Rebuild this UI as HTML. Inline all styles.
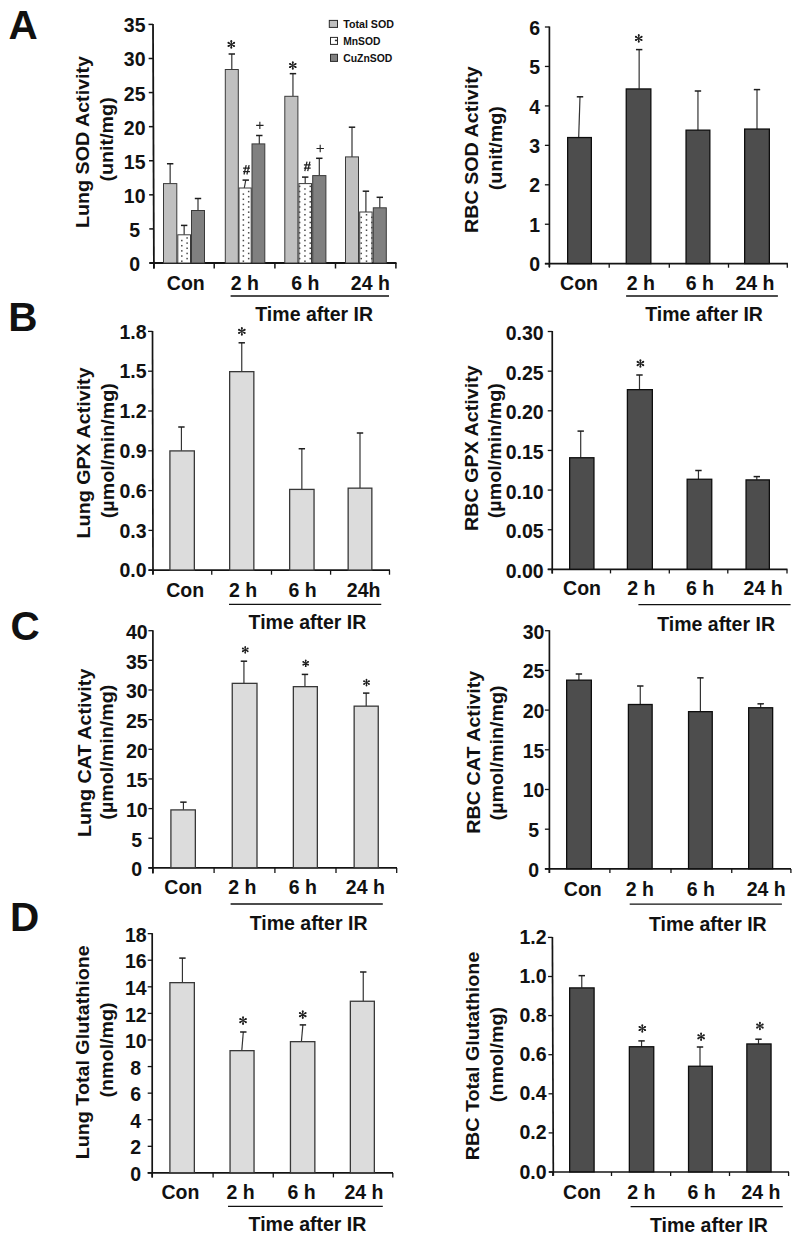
<!DOCTYPE html>
<html><head><meta charset="utf-8"><title>Antioxidant enzyme activities</title>
<style>
html,body{margin:0;padding:0;background:#fff;}
body{width:800px;height:1240px;overflow:hidden;}
svg{display:block;font-family:"Liberation Sans", sans-serif;}
</style></head><body>
<svg width="800" height="1240" viewBox="0 0 800 1240">
<rect x="0" y="0" width="800" height="1240" fill="#fff"/>
<line x1="153.92" y1="268.5" x2="153" y2="23.9" stroke="#141414" stroke-width="1.8" stroke-linecap="butt"/>
<line x1="149.4" y1="263" x2="153.9" y2="263" stroke="#141414" stroke-width="1.5" stroke-linecap="butt"/>
<text x="134.7" y="271" font-size="19.5" text-anchor="middle" font-weight="bold" fill="#111" >0</text>
<line x1="149.27" y1="228.91" x2="153.77" y2="228.91" stroke="#141414" stroke-width="1.5" stroke-linecap="butt"/>
<text x="134.7" y="236.91" font-size="19.5" text-anchor="middle" font-weight="bold" fill="#111" >5</text>
<line x1="149.14" y1="194.83" x2="153.64" y2="194.83" stroke="#141414" stroke-width="1.5" stroke-linecap="butt"/>
<text x="134.7" y="202.83" font-size="19.5" text-anchor="middle" font-weight="bold" fill="#111" >10</text>
<line x1="149.01" y1="160.74" x2="153.51" y2="160.74" stroke="#141414" stroke-width="1.5" stroke-linecap="butt"/>
<text x="134.7" y="168.74" font-size="19.5" text-anchor="middle" font-weight="bold" fill="#111" >15</text>
<line x1="148.89" y1="126.66" x2="153.39" y2="126.66" stroke="#141414" stroke-width="1.5" stroke-linecap="butt"/>
<text x="134.7" y="134.66" font-size="19.5" text-anchor="middle" font-weight="bold" fill="#111" >20</text>
<line x1="148.76" y1="92.57" x2="153.26" y2="92.57" stroke="#141414" stroke-width="1.5" stroke-linecap="butt"/>
<text x="134.7" y="100.57" font-size="19.5" text-anchor="middle" font-weight="bold" fill="#111" >25</text>
<line x1="148.63" y1="58.49" x2="153.13" y2="58.49" stroke="#141414" stroke-width="1.5" stroke-linecap="butt"/>
<text x="134.7" y="66.49" font-size="19.5" text-anchor="middle" font-weight="bold" fill="#111" >30</text>
<line x1="148.5" y1="24.4" x2="153" y2="24.4" stroke="#141414" stroke-width="1.5" stroke-linecap="butt"/>
<text x="134.7" y="32.4" font-size="19.5" text-anchor="middle" font-weight="bold" fill="#111" >35</text>
<line x1="149.4" y1="263" x2="396.5" y2="263" stroke="#141414" stroke-width="1.8" stroke-linecap="butt"/>
<line x1="153.9" y1="263" x2="153.9" y2="268.5" stroke="#141414" stroke-width="1.5" stroke-linecap="butt"/>
<line x1="214.2" y1="263" x2="214.2" y2="268.5" stroke="#141414" stroke-width="1.5" stroke-linecap="butt"/>
<line x1="274.9" y1="263" x2="274.9" y2="268.5" stroke="#141414" stroke-width="1.5" stroke-linecap="butt"/>
<line x1="335.5" y1="263" x2="335.5" y2="268.5" stroke="#141414" stroke-width="1.5" stroke-linecap="butt"/>
<line x1="395.9" y1="263" x2="395.9" y2="268.5" stroke="#141414" stroke-width="1.5" stroke-linecap="butt"/>
<line x1="170.15" y1="183.6" x2="170.15" y2="163.75" stroke="#333" stroke-width="1.2" stroke-linecap="butt"/>
<line x1="166.95" y1="163.75" x2="173.35" y2="163.75" stroke="#1e1e1e" stroke-width="1.5" stroke-linecap="butt"/>
<rect x="163.5" y="183.6" width="13.3" height="79.4" fill="#c0c0c0" stroke="#3a3a3a" stroke-width="1"/>
<line x1="184.15" y1="234.8" x2="184.15" y2="225.4" stroke="#333" stroke-width="1.2" stroke-linecap="butt"/>
<line x1="180.95" y1="225.4" x2="187.35" y2="225.4" stroke="#1e1e1e" stroke-width="1.5" stroke-linecap="butt"/>
<rect x="177.8" y="234.8" width="12.7" height="28.2" fill="#fff" stroke="#3a3a3a" stroke-width="1"/>
<line x1="198" y1="210.5" x2="198" y2="198.5" stroke="#333" stroke-width="1.2" stroke-linecap="butt"/>
<line x1="194.8" y1="198.5" x2="201.2" y2="198.5" stroke="#1e1e1e" stroke-width="1.5" stroke-linecap="butt"/>
<rect x="191.5" y="210.5" width="13" height="52.5" fill="#808080" stroke="#3a3a3a" stroke-width="1"/>
<line x1="231.8" y1="69.5" x2="231.8" y2="54" stroke="#333" stroke-width="1.2" stroke-linecap="butt"/>
<line x1="228.6" y1="54" x2="235" y2="54" stroke="#1e1e1e" stroke-width="1.5" stroke-linecap="butt"/>
<rect x="225.3" y="69.5" width="13" height="193.5" fill="#c0c0c0" stroke="#3a3a3a" stroke-width="1"/>
<line x1="244.25" y1="188" x2="245.75" y2="180.1" stroke="#333" stroke-width="1.2" stroke-linecap="butt"/>
<line x1="242.55" y1="180.1" x2="248.95" y2="180.1" stroke="#1e1e1e" stroke-width="1.5" stroke-linecap="butt"/>
<rect x="239" y="188" width="12.2" height="75" fill="#fff" stroke="#3a3a3a" stroke-width="1"/>
<line x1="259.3" y1="143.9" x2="259.3" y2="135.5" stroke="#333" stroke-width="1.2" stroke-linecap="butt"/>
<line x1="256.1" y1="135.5" x2="262.5" y2="135.5" stroke="#1e1e1e" stroke-width="1.5" stroke-linecap="butt"/>
<rect x="252" y="143.9" width="12.8" height="119.1" fill="#808080" stroke="#3a3a3a" stroke-width="1"/>
<line x1="292.95" y1="96.3" x2="292.95" y2="73.65" stroke="#333" stroke-width="1.2" stroke-linecap="butt"/>
<line x1="289.75" y1="73.65" x2="296.15" y2="73.65" stroke="#1e1e1e" stroke-width="1.5" stroke-linecap="butt"/>
<rect x="284.8" y="96.3" width="13.1" height="166.7" fill="#c0c0c0" stroke="#3a3a3a" stroke-width="1"/>
<line x1="305.2" y1="183.6" x2="305.2" y2="177.1" stroke="#333" stroke-width="1.2" stroke-linecap="butt"/>
<line x1="302" y1="177.1" x2="308.4" y2="177.1" stroke="#1e1e1e" stroke-width="1.5" stroke-linecap="butt"/>
<rect x="298.9" y="183.6" width="12.6" height="79.4" fill="#fff" stroke="#3a3a3a" stroke-width="1"/>
<line x1="319.3" y1="175.6" x2="319.3" y2="158.3" stroke="#333" stroke-width="1.2" stroke-linecap="butt"/>
<line x1="316.1" y1="158.3" x2="322.5" y2="158.3" stroke="#1e1e1e" stroke-width="1.5" stroke-linecap="butt"/>
<rect x="312.7" y="175.6" width="13.2" height="87.4" fill="#808080" stroke="#3a3a3a" stroke-width="1"/>
<line x1="352" y1="156.9" x2="352" y2="127.2" stroke="#333" stroke-width="1.2" stroke-linecap="butt"/>
<line x1="348.8" y1="127.2" x2="355.2" y2="127.2" stroke="#1e1e1e" stroke-width="1.5" stroke-linecap="butt"/>
<rect x="345.5" y="156.9" width="13" height="106.1" fill="#c0c0c0" stroke="#3a3a3a" stroke-width="1"/>
<line x1="365.9" y1="212" x2="365.9" y2="191.2" stroke="#333" stroke-width="1.2" stroke-linecap="butt"/>
<line x1="362.7" y1="191.2" x2="369.1" y2="191.2" stroke="#1e1e1e" stroke-width="1.5" stroke-linecap="butt"/>
<rect x="359.7" y="212" width="12.4" height="51" fill="#fff" stroke="#3a3a3a" stroke-width="1"/>
<line x1="379.8" y1="207.8" x2="379.8" y2="197.3" stroke="#333" stroke-width="1.2" stroke-linecap="butt"/>
<line x1="376.6" y1="197.3" x2="383" y2="197.3" stroke="#1e1e1e" stroke-width="1.5" stroke-linecap="butt"/>
<rect x="373.3" y="207.8" width="13" height="55.2" fill="#808080" stroke="#3a3a3a" stroke-width="1"/>
<rect x="181.05" y="260.45" width="1.5" height="1.5" fill="#4a4a4a"/>
<rect x="181.05" y="255.29" width="1.5" height="1.5" fill="#4a4a4a"/>
<rect x="181.05" y="250.13" width="1.5" height="1.5" fill="#4a4a4a"/>
<rect x="181.05" y="244.97" width="1.5" height="1.5" fill="#4a4a4a"/>
<rect x="181.05" y="239.81" width="1.5" height="1.5" fill="#4a4a4a"/>
<rect x="186.35" y="257.85" width="1.5" height="1.5" fill="#4a4a4a"/>
<rect x="186.35" y="252.69" width="1.5" height="1.5" fill="#4a4a4a"/>
<rect x="186.35" y="247.53" width="1.5" height="1.5" fill="#4a4a4a"/>
<rect x="186.35" y="242.37" width="1.5" height="1.5" fill="#4a4a4a"/>
<rect x="186.35" y="237.21" width="1.5" height="1.5" fill="#4a4a4a"/>
<rect x="242.62" y="260.45" width="1.5" height="1.5" fill="#4a4a4a"/>
<rect x="242.62" y="255.29" width="1.5" height="1.5" fill="#4a4a4a"/>
<rect x="242.62" y="250.13" width="1.5" height="1.5" fill="#4a4a4a"/>
<rect x="242.62" y="244.97" width="1.5" height="1.5" fill="#4a4a4a"/>
<rect x="242.62" y="239.81" width="1.5" height="1.5" fill="#4a4a4a"/>
<rect x="242.62" y="234.65" width="1.5" height="1.5" fill="#4a4a4a"/>
<rect x="242.62" y="229.49" width="1.5" height="1.5" fill="#4a4a4a"/>
<rect x="242.62" y="224.33" width="1.5" height="1.5" fill="#4a4a4a"/>
<rect x="242.62" y="219.17" width="1.5" height="1.5" fill="#4a4a4a"/>
<rect x="242.62" y="214.01" width="1.5" height="1.5" fill="#4a4a4a"/>
<rect x="242.62" y="208.85" width="1.5" height="1.5" fill="#4a4a4a"/>
<rect x="242.62" y="203.69" width="1.5" height="1.5" fill="#4a4a4a"/>
<rect x="242.62" y="198.53" width="1.5" height="1.5" fill="#4a4a4a"/>
<rect x="242.62" y="193.37" width="1.5" height="1.5" fill="#4a4a4a"/>
<rect x="247.92" y="257.85" width="1.5" height="1.5" fill="#4a4a4a"/>
<rect x="247.92" y="252.69" width="1.5" height="1.5" fill="#4a4a4a"/>
<rect x="247.92" y="247.53" width="1.5" height="1.5" fill="#4a4a4a"/>
<rect x="247.92" y="242.37" width="1.5" height="1.5" fill="#4a4a4a"/>
<rect x="247.92" y="237.21" width="1.5" height="1.5" fill="#4a4a4a"/>
<rect x="247.92" y="232.05" width="1.5" height="1.5" fill="#4a4a4a"/>
<rect x="247.92" y="226.89" width="1.5" height="1.5" fill="#4a4a4a"/>
<rect x="247.92" y="221.73" width="1.5" height="1.5" fill="#4a4a4a"/>
<rect x="247.92" y="216.57" width="1.5" height="1.5" fill="#4a4a4a"/>
<rect x="247.92" y="211.41" width="1.5" height="1.5" fill="#4a4a4a"/>
<rect x="247.92" y="206.25" width="1.5" height="1.5" fill="#4a4a4a"/>
<rect x="247.92" y="201.09" width="1.5" height="1.5" fill="#4a4a4a"/>
<rect x="247.92" y="195.93" width="1.5" height="1.5" fill="#4a4a4a"/>
<rect x="247.92" y="190.77" width="1.5" height="1.5" fill="#4a4a4a"/>
<rect x="304.19" y="260.45" width="1.5" height="1.5" fill="#4a4a4a"/>
<rect x="304.19" y="255.29" width="1.5" height="1.5" fill="#4a4a4a"/>
<rect x="304.19" y="250.13" width="1.5" height="1.5" fill="#4a4a4a"/>
<rect x="304.19" y="244.97" width="1.5" height="1.5" fill="#4a4a4a"/>
<rect x="304.19" y="239.81" width="1.5" height="1.5" fill="#4a4a4a"/>
<rect x="304.19" y="234.65" width="1.5" height="1.5" fill="#4a4a4a"/>
<rect x="304.19" y="229.49" width="1.5" height="1.5" fill="#4a4a4a"/>
<rect x="304.19" y="224.33" width="1.5" height="1.5" fill="#4a4a4a"/>
<rect x="304.19" y="219.17" width="1.5" height="1.5" fill="#4a4a4a"/>
<rect x="304.19" y="214.01" width="1.5" height="1.5" fill="#4a4a4a"/>
<rect x="304.19" y="208.85" width="1.5" height="1.5" fill="#4a4a4a"/>
<rect x="304.19" y="203.69" width="1.5" height="1.5" fill="#4a4a4a"/>
<rect x="304.19" y="198.53" width="1.5" height="1.5" fill="#4a4a4a"/>
<rect x="304.19" y="193.37" width="1.5" height="1.5" fill="#4a4a4a"/>
<rect x="304.19" y="188.21" width="1.5" height="1.5" fill="#4a4a4a"/>
<rect x="298.89" y="257.85" width="1.5" height="1.5" fill="#4a4a4a"/>
<rect x="298.89" y="252.69" width="1.5" height="1.5" fill="#4a4a4a"/>
<rect x="298.89" y="247.53" width="1.5" height="1.5" fill="#4a4a4a"/>
<rect x="298.89" y="242.37" width="1.5" height="1.5" fill="#4a4a4a"/>
<rect x="298.89" y="237.21" width="1.5" height="1.5" fill="#4a4a4a"/>
<rect x="298.89" y="232.05" width="1.5" height="1.5" fill="#4a4a4a"/>
<rect x="298.89" y="226.89" width="1.5" height="1.5" fill="#4a4a4a"/>
<rect x="298.89" y="221.73" width="1.5" height="1.5" fill="#4a4a4a"/>
<rect x="298.89" y="216.57" width="1.5" height="1.5" fill="#4a4a4a"/>
<rect x="298.89" y="211.41" width="1.5" height="1.5" fill="#4a4a4a"/>
<rect x="298.89" y="206.25" width="1.5" height="1.5" fill="#4a4a4a"/>
<rect x="298.89" y="201.09" width="1.5" height="1.5" fill="#4a4a4a"/>
<rect x="298.89" y="195.93" width="1.5" height="1.5" fill="#4a4a4a"/>
<rect x="298.89" y="190.77" width="1.5" height="1.5" fill="#4a4a4a"/>
<rect x="298.89" y="185.61" width="1.5" height="1.5" fill="#4a4a4a"/>
<rect x="309.49" y="257.85" width="1.5" height="1.5" fill="#4a4a4a"/>
<rect x="309.49" y="252.69" width="1.5" height="1.5" fill="#4a4a4a"/>
<rect x="309.49" y="247.53" width="1.5" height="1.5" fill="#4a4a4a"/>
<rect x="309.49" y="242.37" width="1.5" height="1.5" fill="#4a4a4a"/>
<rect x="309.49" y="237.21" width="1.5" height="1.5" fill="#4a4a4a"/>
<rect x="309.49" y="232.05" width="1.5" height="1.5" fill="#4a4a4a"/>
<rect x="309.49" y="226.89" width="1.5" height="1.5" fill="#4a4a4a"/>
<rect x="309.49" y="221.73" width="1.5" height="1.5" fill="#4a4a4a"/>
<rect x="309.49" y="216.57" width="1.5" height="1.5" fill="#4a4a4a"/>
<rect x="309.49" y="211.41" width="1.5" height="1.5" fill="#4a4a4a"/>
<rect x="309.49" y="206.25" width="1.5" height="1.5" fill="#4a4a4a"/>
<rect x="309.49" y="201.09" width="1.5" height="1.5" fill="#4a4a4a"/>
<rect x="309.49" y="195.93" width="1.5" height="1.5" fill="#4a4a4a"/>
<rect x="309.49" y="190.77" width="1.5" height="1.5" fill="#4a4a4a"/>
<rect x="309.49" y="185.61" width="1.5" height="1.5" fill="#4a4a4a"/>
<rect x="365.76" y="260.45" width="1.5" height="1.5" fill="#4a4a4a"/>
<rect x="365.76" y="255.29" width="1.5" height="1.5" fill="#4a4a4a"/>
<rect x="365.76" y="250.13" width="1.5" height="1.5" fill="#4a4a4a"/>
<rect x="365.76" y="244.97" width="1.5" height="1.5" fill="#4a4a4a"/>
<rect x="365.76" y="239.81" width="1.5" height="1.5" fill="#4a4a4a"/>
<rect x="365.76" y="234.65" width="1.5" height="1.5" fill="#4a4a4a"/>
<rect x="365.76" y="229.49" width="1.5" height="1.5" fill="#4a4a4a"/>
<rect x="365.76" y="224.33" width="1.5" height="1.5" fill="#4a4a4a"/>
<rect x="365.76" y="219.17" width="1.5" height="1.5" fill="#4a4a4a"/>
<rect x="365.76" y="214.01" width="1.5" height="1.5" fill="#4a4a4a"/>
<rect x="360.46" y="257.85" width="1.5" height="1.5" fill="#4a4a4a"/>
<rect x="360.46" y="252.69" width="1.5" height="1.5" fill="#4a4a4a"/>
<rect x="360.46" y="247.53" width="1.5" height="1.5" fill="#4a4a4a"/>
<rect x="360.46" y="242.37" width="1.5" height="1.5" fill="#4a4a4a"/>
<rect x="360.46" y="237.21" width="1.5" height="1.5" fill="#4a4a4a"/>
<rect x="360.46" y="232.05" width="1.5" height="1.5" fill="#4a4a4a"/>
<rect x="360.46" y="226.89" width="1.5" height="1.5" fill="#4a4a4a"/>
<rect x="360.46" y="221.73" width="1.5" height="1.5" fill="#4a4a4a"/>
<rect x="360.46" y="216.57" width="1.5" height="1.5" fill="#4a4a4a"/>
<rect x="371.06" y="257.85" width="1.5" height="1.5" fill="#4a4a4a"/>
<rect x="371.06" y="252.69" width="1.5" height="1.5" fill="#4a4a4a"/>
<rect x="371.06" y="247.53" width="1.5" height="1.5" fill="#4a4a4a"/>
<rect x="371.06" y="242.37" width="1.5" height="1.5" fill="#4a4a4a"/>
<rect x="371.06" y="237.21" width="1.5" height="1.5" fill="#4a4a4a"/>
<rect x="371.06" y="232.05" width="1.5" height="1.5" fill="#4a4a4a"/>
<rect x="371.06" y="226.89" width="1.5" height="1.5" fill="#4a4a4a"/>
<rect x="371.06" y="221.73" width="1.5" height="1.5" fill="#4a4a4a"/>
<rect x="371.06" y="216.57" width="1.5" height="1.5" fill="#4a4a4a"/>
<circle cx="231.3" cy="41.05" r="0.95" fill="#1e1e1e"/>
<circle cx="228.4" cy="42.73" r="0.95" fill="#1e1e1e"/>
<circle cx="228.4" cy="46.07" r="0.95" fill="#1e1e1e"/>
<circle cx="231.3" cy="47.75" r="0.95" fill="#1e1e1e"/>
<circle cx="234.2" cy="46.08" r="0.95" fill="#1e1e1e"/>
<circle cx="234.2" cy="42.73" r="0.95" fill="#1e1e1e"/>
<path d="M231.6 44.4L232.25 41.05L230.35 41.05L231 44.4ZM231.45 44.14L228.87 41.9L227.92 43.55L231.15 44.66ZM231.15 44.14L227.92 45.25L228.87 46.9L231.45 44.66ZM231 44.4L230.35 47.75L232.25 47.75L231.6 44.4ZM231.15 44.66L233.73 46.9L234.68 45.25L231.45 44.14ZM231.45 44.66L234.68 43.55L233.73 41.9L231.15 44.14Z" fill="#1e1e1e"/>
<circle cx="292.8" cy="62.15" r="0.95" fill="#1e1e1e"/>
<circle cx="289.9" cy="63.83" r="0.95" fill="#1e1e1e"/>
<circle cx="289.9" cy="67.17" r="0.95" fill="#1e1e1e"/>
<circle cx="292.8" cy="68.85" r="0.95" fill="#1e1e1e"/>
<circle cx="295.7" cy="67.17" r="0.95" fill="#1e1e1e"/>
<circle cx="295.7" cy="63.83" r="0.95" fill="#1e1e1e"/>
<path d="M293.1 65.5L293.75 62.15L291.85 62.15L292.5 65.5ZM292.95 65.24L290.37 63L289.42 64.65L292.65 65.76ZM292.65 65.24L289.42 66.35L290.37 68L292.95 65.76ZM292.5 65.5L291.85 68.85L293.75 68.85L293.1 65.5ZM292.65 65.76L295.23 68L296.18 66.35L292.95 65.24ZM292.95 65.76L296.18 64.65L295.23 63L292.65 65.24Z" fill="#1e1e1e"/>
<path d="M244 174.5L246.2 165.1M246.9 174.5L249.1 165.1M243.1 168.2L249.9 168.2M243.1 171.5L249.9 171.5" stroke="#222" stroke-width="1.25" fill="none"/>
<path d="M304.8 171.1L307 161.7M307.7 171.1L309.9 161.7M303.9 164.8L310.7 164.8M303.9 168.1L310.7 168.1" stroke="#222" stroke-width="1.25" fill="none"/>
<path d="M256.15 125.35L263.55 125.35M259.85 121.65L259.85 129.05" stroke="#222" stroke-width="1.1" fill="none"/>
<path d="M316.5 148.5L323.9 148.5M320.2 144.8L320.2 152.2" stroke="#222" stroke-width="1.1" fill="none"/>
<text x="185.8" y="290" font-size="19.5" text-anchor="middle" font-weight="bold" fill="#111" >Con</text>
<text x="244.85" y="290" font-size="19.5" text-anchor="middle" font-weight="bold" fill="#111" >2 h</text>
<text x="305.4" y="290" font-size="19.5" text-anchor="middle" font-weight="bold" fill="#111" >6 h</text>
<text x="370.3" y="290" font-size="19.5" text-anchor="middle" font-weight="bold" fill="#111" >24 h</text>
<line x1="230.6" y1="296" x2="389" y2="296" stroke="#111" stroke-width="1.3" stroke-linecap="butt"/>
<text x="314.2" y="321" font-size="19.5" text-anchor="middle" font-weight="bold" fill="#111" >Time after IR</text>
<text transform="translate(88.5 142) rotate(-90) scale(1 0.94)" x="0" y="0" font-size="19.7" text-anchor="middle" font-weight="bold" fill="#111">Lung SOD Activity</text>
<text transform="translate(112.5 139.4) rotate(-90) scale(1 0.94)" x="0" y="0" font-size="19.7" text-anchor="middle" font-weight="bold" fill="#111">(unit/mg)</text>
<line x1="549.4" y1="267" x2="549.4" y2="26.5" stroke="#141414" stroke-width="1.7" stroke-linecap="butt"/>
<line x1="544.9" y1="263.7" x2="549.4" y2="263.7" stroke="#141414" stroke-width="1.3" stroke-linecap="butt"/>
<text x="534.6" y="271.3" font-size="19.5" text-anchor="middle" font-weight="bold" fill="#111" >0</text>
<line x1="544.9" y1="224.25" x2="549.4" y2="224.25" stroke="#141414" stroke-width="1.3" stroke-linecap="butt"/>
<text x="534.6" y="231.85" font-size="19.5" text-anchor="middle" font-weight="bold" fill="#111" >1</text>
<line x1="544.9" y1="184.8" x2="549.4" y2="184.8" stroke="#141414" stroke-width="1.3" stroke-linecap="butt"/>
<text x="534.6" y="192.4" font-size="19.5" text-anchor="middle" font-weight="bold" fill="#111" >2</text>
<line x1="544.9" y1="145.35" x2="549.4" y2="145.35" stroke="#141414" stroke-width="1.3" stroke-linecap="butt"/>
<text x="534.6" y="152.95" font-size="19.5" text-anchor="middle" font-weight="bold" fill="#111" >3</text>
<line x1="544.9" y1="105.9" x2="549.4" y2="105.9" stroke="#141414" stroke-width="1.3" stroke-linecap="butt"/>
<text x="534.6" y="113.5" font-size="19.5" text-anchor="middle" font-weight="bold" fill="#111" >4</text>
<line x1="544.9" y1="66.45" x2="549.4" y2="66.45" stroke="#141414" stroke-width="1.3" stroke-linecap="butt"/>
<text x="534.6" y="74.05" font-size="19.5" text-anchor="middle" font-weight="bold" fill="#111" >5</text>
<line x1="544.9" y1="27" x2="549.4" y2="27" stroke="#141414" stroke-width="1.3" stroke-linecap="butt"/>
<text x="534.6" y="34.6" font-size="19.5" text-anchor="middle" font-weight="bold" fill="#111" >6</text>
<line x1="544.9" y1="263.7" x2="787.9" y2="263.7" stroke="#141414" stroke-width="1.7" stroke-linecap="butt"/>
<line x1="549.4" y1="263.7" x2="549.4" y2="267.7" stroke="#141414" stroke-width="1.3" stroke-linecap="butt"/>
<line x1="609.2" y1="263.7" x2="609.2" y2="267.7" stroke="#141414" stroke-width="1.3" stroke-linecap="butt"/>
<line x1="669.3" y1="263.7" x2="669.3" y2="267.7" stroke="#141414" stroke-width="1.3" stroke-linecap="butt"/>
<line x1="728.5" y1="263.7" x2="728.5" y2="267.7" stroke="#141414" stroke-width="1.3" stroke-linecap="butt"/>
<line x1="787.3" y1="263.7" x2="787.3" y2="267.7" stroke="#141414" stroke-width="1.3" stroke-linecap="butt"/>
<line x1="578.7" y1="137.4" x2="580" y2="96.8" stroke="#333" stroke-width="1.2" stroke-linecap="butt"/>
<line x1="576.8" y1="96.8" x2="583.2" y2="96.8" stroke="#1e1e1e" stroke-width="1.5" stroke-linecap="butt"/>
<rect x="567.65" y="137.55" width="23.7" height="126" fill="#4d4d4d" stroke="#0e0e0e" stroke-width="1.3"/>
<line x1="639.15" y1="88.8" x2="639.15" y2="49.6" stroke="#333" stroke-width="1.2" stroke-linecap="butt"/>
<line x1="635.95" y1="49.6" x2="642.35" y2="49.6" stroke="#1e1e1e" stroke-width="1.5" stroke-linecap="butt"/>
<rect x="626.25" y="88.95" width="24.6" height="174.6" fill="#4d4d4d" stroke="#0e0e0e" stroke-width="1.3"/>
<line x1="697.95" y1="130" x2="697.95" y2="91" stroke="#333" stroke-width="1.2" stroke-linecap="butt"/>
<line x1="694.75" y1="91" x2="701.15" y2="91" stroke="#1e1e1e" stroke-width="1.5" stroke-linecap="butt"/>
<rect x="686.05" y="130.15" width="23.8" height="133.4" fill="#4d4d4d" stroke="#0e0e0e" stroke-width="1.3"/>
<line x1="757" y1="128.9" x2="757" y2="89.6" stroke="#333" stroke-width="1.2" stroke-linecap="butt"/>
<line x1="753.8" y1="89.6" x2="760.2" y2="89.6" stroke="#1e1e1e" stroke-width="1.5" stroke-linecap="butt"/>
<rect x="744.65" y="129.05" width="24.7" height="134.5" fill="#4d4d4d" stroke="#0e0e0e" stroke-width="1.3"/>
<circle cx="638.75" cy="35.05" r="0.95" fill="#1e1e1e"/>
<circle cx="635.85" cy="36.73" r="0.95" fill="#1e1e1e"/>
<circle cx="635.85" cy="40.07" r="0.95" fill="#1e1e1e"/>
<circle cx="638.75" cy="41.75" r="0.95" fill="#1e1e1e"/>
<circle cx="641.65" cy="40.08" r="0.95" fill="#1e1e1e"/>
<circle cx="641.65" cy="36.73" r="0.95" fill="#1e1e1e"/>
<path d="M639.05 38.4L639.7 35.05L637.8 35.05L638.45 38.4ZM638.9 38.14L636.32 35.9L635.37 37.55L638.6 38.66ZM638.6 38.14L635.37 39.25L636.32 40.9L638.9 38.66ZM638.45 38.4L637.8 41.75L639.7 41.75L639.05 38.4ZM638.6 38.66L641.18 40.9L642.13 39.25L638.9 38.14ZM638.9 38.66L642.13 37.55L641.18 35.9L638.6 38.14Z" fill="#1e1e1e"/>
<text x="579" y="290.1" font-size="19.5" text-anchor="middle" font-weight="bold" fill="#111" >Con</text>
<text x="640.75" y="290.1" font-size="19.5" text-anchor="middle" font-weight="bold" fill="#111" >2 h</text>
<text x="699.9" y="290.1" font-size="19.5" text-anchor="middle" font-weight="bold" fill="#111" >6 h</text>
<text x="755" y="290.1" font-size="19.5" text-anchor="middle" font-weight="bold" fill="#111" >24 h</text>
<line x1="626.1" y1="296" x2="777.9" y2="296" stroke="#111" stroke-width="1.3" stroke-linecap="butt"/>
<text x="704.05" y="321" font-size="19.5" text-anchor="middle" font-weight="bold" fill="#111" >Time after IR</text>
<text transform="translate(478.2 149.65) rotate(-90) scale(1 0.94)" x="0" y="0" font-size="19.7" text-anchor="middle" font-weight="bold" fill="#111">RBC SOD Activity</text>
<text transform="translate(501.5 148.2) rotate(-90) scale(1 0.94)" x="0" y="0" font-size="19.7" text-anchor="middle" font-weight="bold" fill="#111">(unit/mg)</text>
<line x1="153.01" y1="574.5" x2="152.5" y2="330.9" stroke="#141414" stroke-width="1.7" stroke-linecap="butt"/>
<line x1="148.5" y1="570.2" x2="153" y2="570.2" stroke="#141414" stroke-width="1.3" stroke-linecap="butt"/>
<text x="146.6" y="577.3" font-size="19.5" text-anchor="end" font-weight="bold" fill="#111" >0.0</text>
<line x1="148.42" y1="530.4" x2="152.92" y2="530.4" stroke="#141414" stroke-width="1.3" stroke-linecap="butt"/>
<text x="146.6" y="537.5" font-size="19.5" text-anchor="end" font-weight="bold" fill="#111" >0.3</text>
<line x1="148.33" y1="490.6" x2="152.83" y2="490.6" stroke="#141414" stroke-width="1.3" stroke-linecap="butt"/>
<text x="146.6" y="497.7" font-size="19.5" text-anchor="end" font-weight="bold" fill="#111" >0.6</text>
<line x1="148.25" y1="450.8" x2="152.75" y2="450.8" stroke="#141414" stroke-width="1.3" stroke-linecap="butt"/>
<text x="146.6" y="457.9" font-size="19.5" text-anchor="end" font-weight="bold" fill="#111" >0.9</text>
<line x1="148.17" y1="411" x2="152.67" y2="411" stroke="#141414" stroke-width="1.3" stroke-linecap="butt"/>
<text x="146.6" y="418.1" font-size="19.5" text-anchor="end" font-weight="bold" fill="#111" >1.2</text>
<line x1="148.08" y1="371.2" x2="152.58" y2="371.2" stroke="#141414" stroke-width="1.3" stroke-linecap="butt"/>
<text x="146.6" y="378.3" font-size="19.5" text-anchor="end" font-weight="bold" fill="#111" >1.5</text>
<line x1="148" y1="331.4" x2="152.5" y2="331.4" stroke="#141414" stroke-width="1.3" stroke-linecap="butt"/>
<text x="146.6" y="338.5" font-size="19.5" text-anchor="end" font-weight="bold" fill="#111" >1.8</text>
<line x1="148.5" y1="570.2" x2="390" y2="570.2" stroke="#141414" stroke-width="1.7" stroke-linecap="butt"/>
<line x1="152.9" y1="570.2" x2="152.9" y2="574.7" stroke="#141414" stroke-width="1.3" stroke-linecap="butt"/>
<line x1="211.75" y1="570.2" x2="211.75" y2="574.7" stroke="#141414" stroke-width="1.3" stroke-linecap="butt"/>
<line x1="271.5" y1="570.2" x2="271.5" y2="574.7" stroke="#141414" stroke-width="1.3" stroke-linecap="butt"/>
<line x1="330.6" y1="570.2" x2="330.6" y2="574.7" stroke="#141414" stroke-width="1.3" stroke-linecap="butt"/>
<line x1="389.5" y1="570.2" x2="389.5" y2="574.7" stroke="#141414" stroke-width="1.3" stroke-linecap="butt"/>
<line x1="181.43" y1="450.75" x2="181.43" y2="427" stroke="#333" stroke-width="1.2" stroke-linecap="butt"/>
<line x1="178.23" y1="427" x2="184.62" y2="427" stroke="#1e1e1e" stroke-width="1.5" stroke-linecap="butt"/>
<rect x="169.9" y="450.9" width="24.45" height="119.15" fill="#dcdcdc" stroke="#383838" stroke-width="1.3"/>
<line x1="241.75" y1="371.5" x2="241.75" y2="342.8" stroke="#333" stroke-width="1.2" stroke-linecap="butt"/>
<line x1="238.55" y1="342.8" x2="244.95" y2="342.8" stroke="#1e1e1e" stroke-width="1.5" stroke-linecap="butt"/>
<rect x="229.65" y="371.65" width="24.2" height="198.4" fill="#dcdcdc" stroke="#383838" stroke-width="1.3"/>
<line x1="301.85" y1="489.25" x2="301.85" y2="448.75" stroke="#333" stroke-width="1.2" stroke-linecap="butt"/>
<line x1="298.65" y1="448.75" x2="305.05" y2="448.75" stroke="#1e1e1e" stroke-width="1.5" stroke-linecap="butt"/>
<rect x="289.65" y="489.4" width="24.4" height="80.65" fill="#dcdcdc" stroke="#383838" stroke-width="1.3"/>
<line x1="360" y1="488" x2="360" y2="433" stroke="#333" stroke-width="1.2" stroke-linecap="butt"/>
<line x1="356.8" y1="433" x2="363.2" y2="433" stroke="#1e1e1e" stroke-width="1.5" stroke-linecap="butt"/>
<rect x="348.15" y="488.15" width="23.7" height="81.9" fill="#dcdcdc" stroke="#383838" stroke-width="1.3"/>
<circle cx="241.85" cy="328" r="0.95" fill="#1e1e1e"/>
<circle cx="238.95" cy="329.68" r="0.95" fill="#1e1e1e"/>
<circle cx="238.95" cy="333.03" r="0.95" fill="#1e1e1e"/>
<circle cx="241.85" cy="334.7" r="0.95" fill="#1e1e1e"/>
<circle cx="244.75" cy="333.03" r="0.95" fill="#1e1e1e"/>
<circle cx="244.75" cy="329.68" r="0.95" fill="#1e1e1e"/>
<path d="M242.15 331.35L242.8 328L240.9 328L241.55 331.35ZM242 331.09L239.42 328.85L238.47 330.5L241.7 331.61ZM241.7 331.09L238.47 332.2L239.42 333.85L242 331.61ZM241.55 331.35L240.9 334.7L242.8 334.7L242.15 331.35ZM241.7 331.61L244.28 333.85L245.23 332.2L242 331.09ZM242 331.61L245.23 330.5L244.28 328.85L241.7 331.09Z" fill="#1e1e1e"/>
<text x="185.15" y="597.4" font-size="19.5" text-anchor="middle" font-weight="bold" fill="#111" >Con</text>
<text x="243" y="597.4" font-size="19.5" text-anchor="middle" font-weight="bold" fill="#111" >2 h</text>
<text x="302.65" y="597.4" font-size="19.5" text-anchor="middle" font-weight="bold" fill="#111" >6 h</text>
<text x="363.6" y="597.4" font-size="19.5" text-anchor="middle" font-weight="bold" fill="#111" >24h</text>
<line x1="229" y1="604.3" x2="381.25" y2="604.3" stroke="#111" stroke-width="1.3" stroke-linecap="butt"/>
<text x="307.5" y="629" font-size="19.5" text-anchor="middle" font-weight="bold" fill="#111" >Time after IR</text>
<text transform="translate(89.7 452.9) rotate(-90) scale(1 0.94)" x="0" y="0" font-size="19.7" text-anchor="middle" font-weight="bold" fill="#111">Lung GPX Activity</text>
<text transform="translate(113.6 450.75) rotate(-90) scale(1 0.94)" x="0" y="0" font-size="19.7" text-anchor="middle" font-weight="bold" fill="#111">(µmol/min/mg)</text>
<line x1="552.25" y1="573.5" x2="552.25" y2="331" stroke="#141414" stroke-width="1.7" stroke-linecap="butt"/>
<line x1="547.75" y1="569.4" x2="552.25" y2="569.4" stroke="#141414" stroke-width="1.3" stroke-linecap="butt"/>
<text x="543.6" y="577.9" font-size="19.5" text-anchor="end" font-weight="bold" fill="#111" >0.00</text>
<line x1="547.75" y1="529.75" x2="552.25" y2="529.75" stroke="#141414" stroke-width="1.3" stroke-linecap="butt"/>
<text x="543.6" y="538.25" font-size="19.5" text-anchor="end" font-weight="bold" fill="#111" >0.05</text>
<line x1="547.75" y1="490.1" x2="552.25" y2="490.1" stroke="#141414" stroke-width="1.3" stroke-linecap="butt"/>
<text x="543.6" y="498.6" font-size="19.5" text-anchor="end" font-weight="bold" fill="#111" >0.10</text>
<line x1="547.75" y1="450.45" x2="552.25" y2="450.45" stroke="#141414" stroke-width="1.3" stroke-linecap="butt"/>
<text x="543.6" y="458.95" font-size="19.5" text-anchor="end" font-weight="bold" fill="#111" >0.15</text>
<line x1="547.75" y1="410.8" x2="552.25" y2="410.8" stroke="#141414" stroke-width="1.3" stroke-linecap="butt"/>
<text x="543.6" y="419.3" font-size="19.5" text-anchor="end" font-weight="bold" fill="#111" >0.20</text>
<line x1="547.75" y1="371.15" x2="552.25" y2="371.15" stroke="#141414" stroke-width="1.3" stroke-linecap="butt"/>
<text x="543.6" y="379.65" font-size="19.5" text-anchor="end" font-weight="bold" fill="#111" >0.25</text>
<line x1="547.75" y1="331.5" x2="552.25" y2="331.5" stroke="#141414" stroke-width="1.3" stroke-linecap="butt"/>
<text x="543.6" y="340" font-size="19.5" text-anchor="end" font-weight="bold" fill="#111" >0.30</text>
<line x1="547.75" y1="569.4" x2="787.5" y2="569.4" stroke="#141414" stroke-width="1.7" stroke-linecap="butt"/>
<line x1="552.25" y1="569.4" x2="552.25" y2="573.4" stroke="#141414" stroke-width="1.3" stroke-linecap="butt"/>
<line x1="610.5" y1="569.4" x2="610.5" y2="573.4" stroke="#141414" stroke-width="1.3" stroke-linecap="butt"/>
<line x1="669.3" y1="569.4" x2="669.3" y2="573.4" stroke="#141414" stroke-width="1.3" stroke-linecap="butt"/>
<line x1="727.8" y1="569.4" x2="727.8" y2="573.4" stroke="#141414" stroke-width="1.3" stroke-linecap="butt"/>
<line x1="787" y1="569.4" x2="787" y2="573.4" stroke="#141414" stroke-width="1.3" stroke-linecap="butt"/>
<line x1="580.7" y1="457.6" x2="580.7" y2="431.1" stroke="#333" stroke-width="1.2" stroke-linecap="butt"/>
<line x1="577.5" y1="431.1" x2="583.9" y2="431.1" stroke="#1e1e1e" stroke-width="1.5" stroke-linecap="butt"/>
<rect x="569.65" y="457.75" width="24.3" height="111.5" fill="#4d4d4d" stroke="#0e0e0e" stroke-width="1.3"/>
<line x1="639.48" y1="389.5" x2="639.48" y2="375" stroke="#333" stroke-width="1.2" stroke-linecap="butt"/>
<line x1="636.27" y1="375" x2="642.68" y2="375" stroke="#1e1e1e" stroke-width="1.5" stroke-linecap="butt"/>
<rect x="627.4" y="389.65" width="24.95" height="179.6" fill="#4d4d4d" stroke="#0e0e0e" stroke-width="1.3"/>
<line x1="698.45" y1="479.1" x2="698.45" y2="470.5" stroke="#333" stroke-width="1.2" stroke-linecap="butt"/>
<line x1="695.25" y1="470.5" x2="701.65" y2="470.5" stroke="#1e1e1e" stroke-width="1.5" stroke-linecap="butt"/>
<rect x="687.15" y="479.25" width="24.6" height="90" fill="#4d4d4d" stroke="#0e0e0e" stroke-width="1.3"/>
<line x1="756.8" y1="479.75" x2="756.8" y2="476.6" stroke="#333" stroke-width="1.2" stroke-linecap="butt"/>
<line x1="753.6" y1="476.6" x2="760" y2="476.6" stroke="#1e1e1e" stroke-width="1.5" stroke-linecap="butt"/>
<rect x="746.05" y="479.9" width="23.3" height="89.35" fill="#4d4d4d" stroke="#0e0e0e" stroke-width="1.3"/>
<circle cx="640.4" cy="360.15" r="0.95" fill="#1e1e1e"/>
<circle cx="637.5" cy="361.82" r="0.95" fill="#1e1e1e"/>
<circle cx="637.5" cy="365.18" r="0.95" fill="#1e1e1e"/>
<circle cx="640.4" cy="366.85" r="0.95" fill="#1e1e1e"/>
<circle cx="643.3" cy="365.18" r="0.95" fill="#1e1e1e"/>
<circle cx="643.3" cy="361.82" r="0.95" fill="#1e1e1e"/>
<path d="M640.7 363.5L641.35 360.15L639.45 360.15L640.1 363.5ZM640.55 363.24L637.97 361L637.02 362.65L640.25 363.76ZM640.25 363.24L637.02 364.35L637.97 366L640.55 363.76ZM640.1 363.5L639.45 366.85L641.35 366.85L640.7 363.5ZM640.25 363.76L642.83 366L643.78 364.35L640.55 363.24ZM640.55 363.76L643.78 362.65L642.83 361L640.25 363.24Z" fill="#1e1e1e"/>
<text x="582" y="595.25" font-size="19.5" text-anchor="middle" font-weight="bold" fill="#111" >Con</text>
<text x="641.4" y="595.25" font-size="19.5" text-anchor="middle" font-weight="bold" fill="#111" >2 h</text>
<text x="700" y="595.25" font-size="19.5" text-anchor="middle" font-weight="bold" fill="#111" >6 h</text>
<text x="763.1" y="595.25" font-size="19.5" text-anchor="middle" font-weight="bold" fill="#111" >24 h</text>
<line x1="638.4" y1="604.6" x2="790.6" y2="604.6" stroke="#111" stroke-width="1.3" stroke-linecap="butt"/>
<text x="716.1" y="630.5" font-size="19.5" text-anchor="middle" font-weight="bold" fill="#111" >Time after IR</text>
<text transform="translate(478.2 448.15) rotate(-90) scale(1 0.94)" x="0" y="0" font-size="19.7" text-anchor="middle" font-weight="bold" fill="#111">RBC GPX Activity</text>
<text transform="translate(501 450.75) rotate(-90) scale(1 0.94)" x="0" y="0" font-size="19.7" text-anchor="middle" font-weight="bold" fill="#111">(µmol/min/mg)</text>
<line x1="152.9" y1="873.6" x2="152.9" y2="630.2" stroke="#141414" stroke-width="1.7" stroke-linecap="butt"/>
<line x1="148.4" y1="867.9" x2="152.9" y2="867.9" stroke="#141414" stroke-width="1.3" stroke-linecap="butt"/>
<text x="136.8" y="876.2" font-size="19.5" text-anchor="middle" font-weight="bold" fill="#111" >0</text>
<line x1="148.4" y1="838.25" x2="152.9" y2="838.25" stroke="#141414" stroke-width="1.3" stroke-linecap="butt"/>
<text x="136.8" y="846.55" font-size="19.5" text-anchor="middle" font-weight="bold" fill="#111" >5</text>
<line x1="148.4" y1="808.6" x2="152.9" y2="808.6" stroke="#141414" stroke-width="1.3" stroke-linecap="butt"/>
<text x="136.8" y="816.9" font-size="19.5" text-anchor="middle" font-weight="bold" fill="#111" >10</text>
<line x1="148.4" y1="778.95" x2="152.9" y2="778.95" stroke="#141414" stroke-width="1.3" stroke-linecap="butt"/>
<text x="136.8" y="787.25" font-size="19.5" text-anchor="middle" font-weight="bold" fill="#111" >15</text>
<line x1="148.4" y1="749.3" x2="152.9" y2="749.3" stroke="#141414" stroke-width="1.3" stroke-linecap="butt"/>
<text x="136.8" y="757.6" font-size="19.5" text-anchor="middle" font-weight="bold" fill="#111" >20</text>
<line x1="148.4" y1="719.65" x2="152.9" y2="719.65" stroke="#141414" stroke-width="1.3" stroke-linecap="butt"/>
<text x="136.8" y="727.95" font-size="19.5" text-anchor="middle" font-weight="bold" fill="#111" >25</text>
<line x1="148.4" y1="690" x2="152.9" y2="690" stroke="#141414" stroke-width="1.3" stroke-linecap="butt"/>
<text x="136.8" y="698.3" font-size="19.5" text-anchor="middle" font-weight="bold" fill="#111" >30</text>
<line x1="148.4" y1="660.35" x2="152.9" y2="660.35" stroke="#141414" stroke-width="1.3" stroke-linecap="butt"/>
<text x="136.8" y="668.65" font-size="19.5" text-anchor="middle" font-weight="bold" fill="#111" >35</text>
<line x1="148.4" y1="630.7" x2="152.9" y2="630.7" stroke="#141414" stroke-width="1.3" stroke-linecap="butt"/>
<text x="136.8" y="639" font-size="19.5" text-anchor="middle" font-weight="bold" fill="#111" >40</text>
<line x1="148.4" y1="867.9" x2="397" y2="867.9" stroke="#141414" stroke-width="1.7" stroke-linecap="butt"/>
<line x1="152.9" y1="867.9" x2="152.9" y2="872.9" stroke="#141414" stroke-width="1.3" stroke-linecap="butt"/>
<line x1="214.1" y1="867.9" x2="214.1" y2="872.9" stroke="#141414" stroke-width="1.3" stroke-linecap="butt"/>
<line x1="274.9" y1="867.9" x2="274.9" y2="872.9" stroke="#141414" stroke-width="1.3" stroke-linecap="butt"/>
<line x1="336" y1="867.9" x2="336" y2="872.9" stroke="#141414" stroke-width="1.3" stroke-linecap="butt"/>
<line x1="396.7" y1="867.9" x2="396.7" y2="872.9" stroke="#141414" stroke-width="1.3" stroke-linecap="butt"/>
<line x1="183.43" y1="809.75" x2="183.43" y2="802.15" stroke="#333" stroke-width="1.2" stroke-linecap="butt"/>
<line x1="180.23" y1="802.15" x2="186.62" y2="802.15" stroke="#1e1e1e" stroke-width="1.5" stroke-linecap="butt"/>
<rect x="170.9" y="809.9" width="24.45" height="57.85" fill="#dcdcdc" stroke="#383838" stroke-width="1.3"/>
<line x1="243.93" y1="683.2" x2="243.93" y2="661.2" stroke="#333" stroke-width="1.2" stroke-linecap="butt"/>
<line x1="240.73" y1="661.2" x2="247.12" y2="661.2" stroke="#1e1e1e" stroke-width="1.5" stroke-linecap="butt"/>
<rect x="232.25" y="683.35" width="24.75" height="184.4" fill="#dcdcdc" stroke="#383838" stroke-width="1.3"/>
<line x1="304.95" y1="686.5" x2="304.95" y2="674.4" stroke="#333" stroke-width="1.2" stroke-linecap="butt"/>
<line x1="301.75" y1="674.4" x2="308.15" y2="674.4" stroke="#1e1e1e" stroke-width="1.5" stroke-linecap="butt"/>
<rect x="293.35" y="686.65" width="24" height="181.1" fill="#dcdcdc" stroke="#383838" stroke-width="1.3"/>
<line x1="366.2" y1="706" x2="366.2" y2="693.1" stroke="#333" stroke-width="1.2" stroke-linecap="butt"/>
<line x1="363" y1="693.1" x2="369.4" y2="693.1" stroke="#1e1e1e" stroke-width="1.5" stroke-linecap="butt"/>
<rect x="354.15" y="706.15" width="24.1" height="161.6" fill="#dcdcdc" stroke="#383838" stroke-width="1.3"/>
<circle cx="245.25" cy="646.9" r="0.84" fill="#1e1e1e"/>
<circle cx="242.7" cy="648.38" r="0.84" fill="#1e1e1e"/>
<circle cx="242.7" cy="651.32" r="0.84" fill="#1e1e1e"/>
<circle cx="245.25" cy="652.8" r="0.84" fill="#1e1e1e"/>
<circle cx="247.8" cy="651.32" r="0.84" fill="#1e1e1e"/>
<circle cx="247.8" cy="648.38" r="0.84" fill="#1e1e1e"/>
<path d="M245.55 649.85L246.09 646.9L244.41 646.9L244.95 649.85ZM245.4 649.59L243.11 647.65L242.28 649.1L245.1 650.11ZM245.1 649.59L242.28 650.6L243.11 652.05L245.4 650.11ZM244.95 649.85L244.41 652.8L246.09 652.8L245.55 649.85ZM245.1 650.11L247.39 652.05L248.22 650.6L245.4 649.59ZM245.4 650.11L248.22 649.1L247.39 647.65L245.1 649.59Z" fill="#1e1e1e"/>
<circle cx="305.7" cy="660.3" r="0.84" fill="#1e1e1e"/>
<circle cx="303.15" cy="661.78" r="0.84" fill="#1e1e1e"/>
<circle cx="303.15" cy="664.72" r="0.84" fill="#1e1e1e"/>
<circle cx="305.7" cy="666.2" r="0.84" fill="#1e1e1e"/>
<circle cx="308.25" cy="664.72" r="0.84" fill="#1e1e1e"/>
<circle cx="308.25" cy="661.78" r="0.84" fill="#1e1e1e"/>
<path d="M306 663.25L306.54 660.3L304.86 660.3L305.4 663.25ZM305.85 662.99L303.56 661.05L302.73 662.5L305.55 663.51ZM305.55 662.99L302.73 664L303.56 665.45L305.85 663.51ZM305.4 663.25L304.86 666.2L306.54 666.2L306 663.25ZM305.55 663.51L307.84 665.45L308.67 664L305.85 662.99ZM305.85 663.51L308.67 662.5L307.84 661.05L305.55 662.99Z" fill="#1e1e1e"/>
<circle cx="366.5" cy="679.65" r="0.84" fill="#1e1e1e"/>
<circle cx="363.95" cy="681.13" r="0.84" fill="#1e1e1e"/>
<circle cx="363.95" cy="684.07" r="0.84" fill="#1e1e1e"/>
<circle cx="366.5" cy="685.55" r="0.84" fill="#1e1e1e"/>
<circle cx="369.05" cy="684.07" r="0.84" fill="#1e1e1e"/>
<circle cx="369.05" cy="681.13" r="0.84" fill="#1e1e1e"/>
<path d="M366.8 682.6L367.34 679.65L365.66 679.65L366.2 682.6ZM366.65 682.34L364.36 680.4L363.53 681.85L366.35 682.86ZM366.35 682.34L363.53 683.35L364.36 684.8L366.65 682.86ZM366.2 682.6L365.66 685.55L367.34 685.55L366.8 682.6ZM366.35 682.86L368.64 684.8L369.47 683.35L366.65 682.34ZM366.65 682.86L369.47 681.85L368.64 680.4L366.35 682.34Z" fill="#1e1e1e"/>
<text x="183.25" y="894.2" font-size="19.5" text-anchor="middle" font-weight="bold" fill="#111" >Con</text>
<text x="242.3" y="894.2" font-size="19.5" text-anchor="middle" font-weight="bold" fill="#111" >2 h</text>
<text x="302.8" y="894.2" font-size="19.5" text-anchor="middle" font-weight="bold" fill="#111" >6 h</text>
<text x="365.3" y="894.2" font-size="19.5" text-anchor="middle" font-weight="bold" fill="#111" >24 h</text>
<line x1="230.6" y1="904" x2="382.8" y2="904" stroke="#111" stroke-width="1.3" stroke-linecap="butt"/>
<text x="308.6" y="929.9" font-size="19.5" text-anchor="middle" font-weight="bold" fill="#111" >Time after IR</text>
<text transform="translate(91.1 752.9) rotate(-90) scale(1 0.94)" x="0" y="0" font-size="19.7" text-anchor="middle" font-weight="bold" fill="#111">Lung CAT Activity</text>
<text transform="translate(113.3 752.15) rotate(-90) scale(1 0.94)" x="0" y="0" font-size="19.7" text-anchor="middle" font-weight="bold" fill="#111">(µmol/min/mg)</text>
<line x1="549.4" y1="873" x2="549.4" y2="630.2" stroke="#141414" stroke-width="1.7" stroke-linecap="butt"/>
<line x1="544.9" y1="868.9" x2="549.4" y2="868.9" stroke="#141414" stroke-width="1.3" stroke-linecap="butt"/>
<text x="533.6" y="876.8" font-size="19.5" text-anchor="middle" font-weight="bold" fill="#111" >0</text>
<line x1="544.9" y1="829.2" x2="549.4" y2="829.2" stroke="#141414" stroke-width="1.3" stroke-linecap="butt"/>
<text x="533.6" y="837.1" font-size="19.5" text-anchor="middle" font-weight="bold" fill="#111" >5</text>
<line x1="544.9" y1="789.5" x2="549.4" y2="789.5" stroke="#141414" stroke-width="1.3" stroke-linecap="butt"/>
<text x="533.6" y="797.4" font-size="19.5" text-anchor="middle" font-weight="bold" fill="#111" >10</text>
<line x1="544.9" y1="749.8" x2="549.4" y2="749.8" stroke="#141414" stroke-width="1.3" stroke-linecap="butt"/>
<text x="533.6" y="757.7" font-size="19.5" text-anchor="middle" font-weight="bold" fill="#111" >15</text>
<line x1="544.9" y1="710.1" x2="549.4" y2="710.1" stroke="#141414" stroke-width="1.3" stroke-linecap="butt"/>
<text x="533.6" y="718" font-size="19.5" text-anchor="middle" font-weight="bold" fill="#111" >20</text>
<line x1="544.9" y1="670.4" x2="549.4" y2="670.4" stroke="#141414" stroke-width="1.3" stroke-linecap="butt"/>
<text x="533.6" y="678.3" font-size="19.5" text-anchor="middle" font-weight="bold" fill="#111" >25</text>
<line x1="544.9" y1="630.7" x2="549.4" y2="630.7" stroke="#141414" stroke-width="1.3" stroke-linecap="butt"/>
<text x="533.6" y="638.6" font-size="19.5" text-anchor="middle" font-weight="bold" fill="#111" >30</text>
<line x1="544.9" y1="868.9" x2="791" y2="868.9" stroke="#141414" stroke-width="1.7" stroke-linecap="butt"/>
<line x1="549.4" y1="868.9" x2="549.4" y2="872.9" stroke="#141414" stroke-width="1.3" stroke-linecap="butt"/>
<line x1="609.9" y1="868.9" x2="609.9" y2="872.9" stroke="#141414" stroke-width="1.3" stroke-linecap="butt"/>
<line x1="671" y1="868.9" x2="671" y2="872.9" stroke="#141414" stroke-width="1.3" stroke-linecap="butt"/>
<line x1="731.75" y1="868.9" x2="731.75" y2="872.9" stroke="#141414" stroke-width="1.3" stroke-linecap="butt"/>
<line x1="790.9" y1="868.9" x2="790.9" y2="872.9" stroke="#141414" stroke-width="1.3" stroke-linecap="butt"/>
<line x1="578.9" y1="680" x2="578.9" y2="674" stroke="#333" stroke-width="1.2" stroke-linecap="butt"/>
<line x1="575.7" y1="674" x2="582.1" y2="674" stroke="#1e1e1e" stroke-width="1.5" stroke-linecap="butt"/>
<rect x="566.65" y="680.15" width="24.7" height="188.6" fill="#4d4d4d" stroke="#0e0e0e" stroke-width="1.3"/>
<line x1="640.27" y1="704.35" x2="640.27" y2="686" stroke="#333" stroke-width="1.2" stroke-linecap="butt"/>
<line x1="637.07" y1="686" x2="643.48" y2="686" stroke="#1e1e1e" stroke-width="1.5" stroke-linecap="butt"/>
<rect x="628.4" y="704.5" width="23.75" height="164.25" fill="#4d4d4d" stroke="#0e0e0e" stroke-width="1.3"/>
<line x1="700.4" y1="711.5" x2="700.4" y2="677.85" stroke="#333" stroke-width="1.2" stroke-linecap="butt"/>
<line x1="697.2" y1="677.85" x2="703.6" y2="677.85" stroke="#1e1e1e" stroke-width="1.5" stroke-linecap="butt"/>
<rect x="688.55" y="711.65" width="23.7" height="157.1" fill="#4d4d4d" stroke="#0e0e0e" stroke-width="1.3"/>
<line x1="760.65" y1="707.6" x2="760.65" y2="703.85" stroke="#333" stroke-width="1.2" stroke-linecap="butt"/>
<line x1="757.45" y1="703.85" x2="763.85" y2="703.85" stroke="#1e1e1e" stroke-width="1.5" stroke-linecap="butt"/>
<rect x="748.65" y="707.75" width="24" height="161" fill="#4d4d4d" stroke="#0e0e0e" stroke-width="1.3"/>
<text x="582.8" y="896.4" font-size="19.5" text-anchor="middle" font-weight="bold" fill="#111" >Con</text>
<text x="639.85" y="896.4" font-size="19.5" text-anchor="middle" font-weight="bold" fill="#111" >2 h</text>
<text x="700.75" y="896.4" font-size="19.5" text-anchor="middle" font-weight="bold" fill="#111" >6 h</text>
<text x="766.25" y="896.4" font-size="19.5" text-anchor="middle" font-weight="bold" fill="#111" >24 h</text>
<line x1="629.7" y1="904.2" x2="781.9" y2="904.2" stroke="#111" stroke-width="1.3" stroke-linecap="butt"/>
<text x="707.8" y="930.8" font-size="19.5" text-anchor="middle" font-weight="bold" fill="#111" >Time after IR</text>
<text transform="translate(480.4 752.2) rotate(-90) scale(1 0.94)" x="0" y="0" font-size="19.7" text-anchor="middle" font-weight="bold" fill="#111">RBC CAT Activity</text>
<text transform="translate(503.3 752.95) rotate(-90) scale(1 0.94)" x="0" y="0" font-size="19.7" text-anchor="middle" font-weight="bold" fill="#111">(µmol/min/mg)</text>
<line x1="152.2" y1="1177.5" x2="152.2" y2="933.15" stroke="#141414" stroke-width="1.7" stroke-linecap="butt"/>
<line x1="147.7" y1="1172.9" x2="152.2" y2="1172.9" stroke="#141414" stroke-width="1.3" stroke-linecap="butt"/>
<text x="135.8" y="1181" font-size="19.5" text-anchor="middle" font-weight="bold" fill="#111" >0</text>
<line x1="147.7" y1="1146.32" x2="152.2" y2="1146.32" stroke="#141414" stroke-width="1.3" stroke-linecap="butt"/>
<text x="135.8" y="1154.42" font-size="19.5" text-anchor="middle" font-weight="bold" fill="#111" >2</text>
<line x1="147.7" y1="1119.73" x2="152.2" y2="1119.73" stroke="#141414" stroke-width="1.3" stroke-linecap="butt"/>
<text x="135.8" y="1127.83" font-size="19.5" text-anchor="middle" font-weight="bold" fill="#111" >4</text>
<line x1="147.7" y1="1093.15" x2="152.2" y2="1093.15" stroke="#141414" stroke-width="1.3" stroke-linecap="butt"/>
<text x="135.8" y="1101.25" font-size="19.5" text-anchor="middle" font-weight="bold" fill="#111" >6</text>
<line x1="147.7" y1="1066.57" x2="152.2" y2="1066.57" stroke="#141414" stroke-width="1.3" stroke-linecap="butt"/>
<text x="135.8" y="1074.67" font-size="19.5" text-anchor="middle" font-weight="bold" fill="#111" >8</text>
<line x1="147.7" y1="1039.98" x2="152.2" y2="1039.98" stroke="#141414" stroke-width="1.3" stroke-linecap="butt"/>
<text x="135.8" y="1048.08" font-size="19.5" text-anchor="middle" font-weight="bold" fill="#111" >10</text>
<line x1="147.7" y1="1013.4" x2="152.2" y2="1013.4" stroke="#141414" stroke-width="1.3" stroke-linecap="butt"/>
<text x="135.8" y="1021.5" font-size="19.5" text-anchor="middle" font-weight="bold" fill="#111" >12</text>
<line x1="147.7" y1="986.82" x2="152.2" y2="986.82" stroke="#141414" stroke-width="1.3" stroke-linecap="butt"/>
<text x="135.8" y="994.92" font-size="19.5" text-anchor="middle" font-weight="bold" fill="#111" >14</text>
<line x1="147.7" y1="960.23" x2="152.2" y2="960.23" stroke="#141414" stroke-width="1.3" stroke-linecap="butt"/>
<text x="135.8" y="968.33" font-size="19.5" text-anchor="middle" font-weight="bold" fill="#111" >16</text>
<line x1="147.7" y1="933.65" x2="152.2" y2="933.65" stroke="#141414" stroke-width="1.3" stroke-linecap="butt"/>
<text x="135.8" y="941.75" font-size="19.5" text-anchor="middle" font-weight="bold" fill="#111" >18</text>
<line x1="147.7" y1="1172.9" x2="393" y2="1172.9" stroke="#141414" stroke-width="1.7" stroke-linecap="butt"/>
<line x1="152.2" y1="1172.9" x2="152.2" y2="1177.4" stroke="#141414" stroke-width="1.3" stroke-linecap="butt"/>
<line x1="213.1" y1="1172.9" x2="213.1" y2="1177.4" stroke="#141414" stroke-width="1.3" stroke-linecap="butt"/>
<line x1="273.25" y1="1172.9" x2="273.25" y2="1177.4" stroke="#141414" stroke-width="1.3" stroke-linecap="butt"/>
<line x1="333.4" y1="1172.9" x2="333.4" y2="1177.4" stroke="#141414" stroke-width="1.3" stroke-linecap="butt"/>
<line x1="392.8" y1="1172.9" x2="392.8" y2="1177.4" stroke="#141414" stroke-width="1.3" stroke-linecap="butt"/>
<line x1="182.43" y1="982.5" x2="182.43" y2="958.1" stroke="#333" stroke-width="1.2" stroke-linecap="butt"/>
<line x1="179.23" y1="958.1" x2="185.62" y2="958.1" stroke="#1e1e1e" stroke-width="1.5" stroke-linecap="butt"/>
<rect x="169.9" y="982.65" width="24.45" height="190.1" fill="#dcdcdc" stroke="#383838" stroke-width="1.3"/>
<line x1="241.8" y1="1050.5" x2="243.3" y2="1032" stroke="#333" stroke-width="1.2" stroke-linecap="butt"/>
<line x1="240.1" y1="1032" x2="246.5" y2="1032" stroke="#1e1e1e" stroke-width="1.5" stroke-linecap="butt"/>
<rect x="230.05" y="1050.65" width="24" height="122.1" fill="#dcdcdc" stroke="#383838" stroke-width="1.3"/>
<line x1="301.4" y1="1041.5" x2="302.9" y2="1024.9" stroke="#333" stroke-width="1.2" stroke-linecap="butt"/>
<line x1="299.7" y1="1024.9" x2="306.1" y2="1024.9" stroke="#1e1e1e" stroke-width="1.5" stroke-linecap="butt"/>
<rect x="290.45" y="1041.65" width="24.4" height="131.1" fill="#dcdcdc" stroke="#383838" stroke-width="1.3"/>
<line x1="363.25" y1="1001.1" x2="363.25" y2="972" stroke="#333" stroke-width="1.2" stroke-linecap="butt"/>
<line x1="360.05" y1="972" x2="366.45" y2="972" stroke="#1e1e1e" stroke-width="1.5" stroke-linecap="butt"/>
<rect x="350.35" y="1001.25" width="24" height="171.5" fill="#dcdcdc" stroke="#383838" stroke-width="1.3"/>
<circle cx="243.05" cy="1017.25" r="0.95" fill="#1e1e1e"/>
<circle cx="240.15" cy="1018.93" r="0.95" fill="#1e1e1e"/>
<circle cx="240.15" cy="1022.27" r="0.95" fill="#1e1e1e"/>
<circle cx="243.05" cy="1023.95" r="0.95" fill="#1e1e1e"/>
<circle cx="245.95" cy="1022.27" r="0.95" fill="#1e1e1e"/>
<circle cx="245.95" cy="1018.93" r="0.95" fill="#1e1e1e"/>
<path d="M243.35 1020.6L244 1017.25L242.1 1017.25L242.75 1020.6ZM243.2 1020.34L240.62 1018.1L239.67 1019.75L242.9 1020.86ZM242.9 1020.34L239.67 1021.45L240.62 1023.1L243.2 1020.86ZM242.75 1020.6L242.1 1023.95L244 1023.95L243.35 1020.6ZM242.9 1020.86L245.48 1023.1L246.43 1021.45L243.2 1020.34ZM243.2 1020.86L246.43 1019.75L245.48 1018.1L242.9 1020.34Z" fill="#1e1e1e"/>
<circle cx="302.75" cy="1011.3" r="0.95" fill="#1e1e1e"/>
<circle cx="299.85" cy="1012.98" r="0.95" fill="#1e1e1e"/>
<circle cx="299.85" cy="1016.32" r="0.95" fill="#1e1e1e"/>
<circle cx="302.75" cy="1018" r="0.95" fill="#1e1e1e"/>
<circle cx="305.65" cy="1016.32" r="0.95" fill="#1e1e1e"/>
<circle cx="305.65" cy="1012.98" r="0.95" fill="#1e1e1e"/>
<path d="M303.05 1014.65L303.7 1011.3L301.8 1011.3L302.45 1014.65ZM302.9 1014.39L300.32 1012.15L299.37 1013.8L302.6 1014.91ZM302.6 1014.39L299.37 1015.5L300.32 1017.15L302.9 1014.91ZM302.45 1014.65L301.8 1018L303.7 1018L303.05 1014.65ZM302.6 1014.91L305.18 1017.15L306.13 1015.5L302.9 1014.39ZM302.9 1014.91L306.13 1013.8L305.18 1012.15L302.6 1014.39Z" fill="#1e1e1e"/>
<text x="180.45" y="1198.7" font-size="19.5" text-anchor="middle" font-weight="bold" fill="#111" >Con</text>
<text x="240.6" y="1198.7" font-size="19.5" text-anchor="middle" font-weight="bold" fill="#111" >2 h</text>
<text x="301.55" y="1198.7" font-size="19.5" text-anchor="middle" font-weight="bold" fill="#111" >6 h</text>
<text x="364" y="1198.7" font-size="19.5" text-anchor="middle" font-weight="bold" fill="#111" >24 h</text>
<line x1="228" y1="1206.3" x2="382.8" y2="1206.3" stroke="#111" stroke-width="1.3" stroke-linecap="butt"/>
<text x="307.5" y="1230.8" font-size="19.5" text-anchor="middle" font-weight="bold" fill="#111" >Time after IR</text>
<text transform="translate(89.1 1052.25) rotate(-90) scale(1 0.94)" x="0" y="0" font-size="19.7" text-anchor="middle" font-weight="bold" fill="#111">Lung Total Glutathione</text>
<text transform="translate(112.5 1049.9) rotate(-90) scale(1 0.94)" x="0" y="0" font-size="19.7" text-anchor="middle" font-weight="bold" fill="#111">(nmol/mg)</text>
<line x1="553.31" y1="1175.8" x2="552.4" y2="936.9" stroke="#141414" stroke-width="1.7" stroke-linecap="butt"/>
<line x1="548.8" y1="1172" x2="553.3" y2="1172" stroke="#141414" stroke-width="1.3" stroke-linecap="butt"/>
<text x="546.5" y="1178.5" font-size="19.5" text-anchor="end" font-weight="bold" fill="#111" >0.0</text>
<line x1="548.65" y1="1132.9" x2="553.15" y2="1132.9" stroke="#141414" stroke-width="1.3" stroke-linecap="butt"/>
<text x="546.5" y="1139.4" font-size="19.5" text-anchor="end" font-weight="bold" fill="#111" >0.2</text>
<line x1="548.5" y1="1093.8" x2="553" y2="1093.8" stroke="#141414" stroke-width="1.3" stroke-linecap="butt"/>
<text x="546.5" y="1100.3" font-size="19.5" text-anchor="end" font-weight="bold" fill="#111" >0.4</text>
<line x1="548.35" y1="1054.7" x2="552.85" y2="1054.7" stroke="#141414" stroke-width="1.3" stroke-linecap="butt"/>
<text x="546.5" y="1061.2" font-size="19.5" text-anchor="end" font-weight="bold" fill="#111" >0.6</text>
<line x1="548.2" y1="1015.6" x2="552.7" y2="1015.6" stroke="#141414" stroke-width="1.3" stroke-linecap="butt"/>
<text x="546.5" y="1022.1" font-size="19.5" text-anchor="end" font-weight="bold" fill="#111" >0.8</text>
<line x1="548.05" y1="976.5" x2="552.55" y2="976.5" stroke="#141414" stroke-width="1.3" stroke-linecap="butt"/>
<text x="546.5" y="983" font-size="19.5" text-anchor="end" font-weight="bold" fill="#111" >1.0</text>
<line x1="547.9" y1="937.4" x2="552.4" y2="937.4" stroke="#141414" stroke-width="1.3" stroke-linecap="butt"/>
<text x="546.5" y="943.9" font-size="19.5" text-anchor="end" font-weight="bold" fill="#111" >1.2</text>
<line x1="548.8" y1="1172" x2="789" y2="1172" stroke="#141414" stroke-width="1.7" stroke-linecap="butt"/>
<line x1="552.8" y1="1172" x2="552.8" y2="1176" stroke="#141414" stroke-width="1.3" stroke-linecap="butt"/>
<line x1="611.5" y1="1172" x2="611.5" y2="1176" stroke="#141414" stroke-width="1.3" stroke-linecap="butt"/>
<line x1="670.65" y1="1172" x2="670.65" y2="1176" stroke="#141414" stroke-width="1.3" stroke-linecap="butt"/>
<line x1="729.5" y1="1172" x2="729.5" y2="1176" stroke="#141414" stroke-width="1.3" stroke-linecap="butt"/>
<line x1="788.6" y1="1172" x2="788.6" y2="1176" stroke="#141414" stroke-width="1.3" stroke-linecap="butt"/>
<line x1="581.77" y1="987.75" x2="581.77" y2="975.65" stroke="#333" stroke-width="1.2" stroke-linecap="butt"/>
<line x1="578.57" y1="975.65" x2="584.98" y2="975.65" stroke="#1e1e1e" stroke-width="1.5" stroke-linecap="butt"/>
<rect x="569.65" y="987.9" width="24.45" height="183.95" fill="#4d4d4d" stroke="#0e0e0e" stroke-width="1.3"/>
<line x1="641.55" y1="1046.6" x2="641.55" y2="1040.9" stroke="#333" stroke-width="1.2" stroke-linecap="butt"/>
<line x1="638.35" y1="1040.9" x2="644.75" y2="1040.9" stroke="#1e1e1e" stroke-width="1.5" stroke-linecap="butt"/>
<rect x="629.35" y="1046.75" width="24.4" height="125.1" fill="#4d4d4d" stroke="#0e0e0e" stroke-width="1.3"/>
<line x1="700" y1="1066.1" x2="700" y2="1047" stroke="#333" stroke-width="1.2" stroke-linecap="butt"/>
<line x1="696.8" y1="1047" x2="703.2" y2="1047" stroke="#1e1e1e" stroke-width="1.5" stroke-linecap="butt"/>
<rect x="688.55" y="1066.25" width="23.7" height="105.6" fill="#4d4d4d" stroke="#0e0e0e" stroke-width="1.3"/>
<line x1="758.5" y1="1043.8" x2="758.5" y2="1039.2" stroke="#333" stroke-width="1.2" stroke-linecap="butt"/>
<line x1="755.3" y1="1039.2" x2="761.7" y2="1039.2" stroke="#1e1e1e" stroke-width="1.5" stroke-linecap="butt"/>
<rect x="746.85" y="1043.95" width="24.2" height="127.9" fill="#4d4d4d" stroke="#0e0e0e" stroke-width="1.3"/>
<circle cx="642.3" cy="1025.15" r="0.95" fill="#1e1e1e"/>
<circle cx="639.4" cy="1026.83" r="0.95" fill="#1e1e1e"/>
<circle cx="639.4" cy="1030.17" r="0.95" fill="#1e1e1e"/>
<circle cx="642.3" cy="1031.85" r="0.95" fill="#1e1e1e"/>
<circle cx="645.2" cy="1030.17" r="0.95" fill="#1e1e1e"/>
<circle cx="645.2" cy="1026.83" r="0.95" fill="#1e1e1e"/>
<path d="M642.6 1028.5L643.25 1025.15L641.35 1025.15L642 1028.5ZM642.45 1028.24L639.87 1026L638.92 1027.65L642.15 1028.76ZM642.15 1028.24L638.92 1029.35L639.87 1031L642.45 1028.76ZM642 1028.5L641.35 1031.85L643.25 1031.85L642.6 1028.5ZM642.15 1028.76L644.73 1031L645.68 1029.35L642.45 1028.24ZM642.45 1028.76L645.68 1027.65L644.73 1026L642.15 1028.24Z" fill="#1e1e1e"/>
<circle cx="701.1" cy="1033.4" r="0.95" fill="#1e1e1e"/>
<circle cx="698.2" cy="1035.08" r="0.95" fill="#1e1e1e"/>
<circle cx="698.2" cy="1038.42" r="0.95" fill="#1e1e1e"/>
<circle cx="701.1" cy="1040.1" r="0.95" fill="#1e1e1e"/>
<circle cx="704" cy="1038.42" r="0.95" fill="#1e1e1e"/>
<circle cx="704" cy="1035.08" r="0.95" fill="#1e1e1e"/>
<path d="M701.4 1036.75L702.05 1033.4L700.15 1033.4L700.8 1036.75ZM701.25 1036.49L698.67 1034.25L697.72 1035.9L700.95 1037.01ZM700.95 1036.49L697.72 1037.6L698.67 1039.25L701.25 1037.01ZM700.8 1036.75L700.15 1040.1L702.05 1040.1L701.4 1036.75ZM700.95 1037.01L703.53 1039.25L704.48 1037.6L701.25 1036.49ZM701.25 1037.01L704.48 1035.9L703.53 1034.25L700.95 1036.49Z" fill="#1e1e1e"/>
<circle cx="759.9" cy="1022.65" r="0.95" fill="#1e1e1e"/>
<circle cx="757" cy="1024.33" r="0.95" fill="#1e1e1e"/>
<circle cx="757" cy="1027.67" r="0.95" fill="#1e1e1e"/>
<circle cx="759.9" cy="1029.35" r="0.95" fill="#1e1e1e"/>
<circle cx="762.8" cy="1027.67" r="0.95" fill="#1e1e1e"/>
<circle cx="762.8" cy="1024.33" r="0.95" fill="#1e1e1e"/>
<path d="M760.2 1026L760.85 1022.65L758.95 1022.65L759.6 1026ZM760.05 1025.74L757.47 1023.5L756.52 1025.15L759.75 1026.26ZM759.75 1025.74L756.52 1026.85L757.47 1028.5L760.05 1026.26ZM759.6 1026L758.95 1029.35L760.85 1029.35L760.2 1026ZM759.75 1026.26L762.33 1028.5L763.28 1026.85L760.05 1025.74ZM760.05 1026.26L763.28 1025.15L762.33 1023.5L759.75 1025.74Z" fill="#1e1e1e"/>
<text x="582" y="1199.4" font-size="19.5" text-anchor="middle" font-weight="bold" fill="#111" >Con</text>
<text x="641.4" y="1199.4" font-size="19.5" text-anchor="middle" font-weight="bold" fill="#111" >2 h</text>
<text x="701.55" y="1199.4" font-size="19.5" text-anchor="middle" font-weight="bold" fill="#111" >6 h</text>
<text x="761" y="1199.4" font-size="19.5" text-anchor="middle" font-weight="bold" fill="#111" >24 h</text>
<line x1="630.6" y1="1206.6" x2="782.8" y2="1206.6" stroke="#111" stroke-width="1.3" stroke-linecap="butt"/>
<text x="708.9" y="1232.3" font-size="19.5" text-anchor="middle" font-weight="bold" fill="#111" >Time after IR</text>
<text transform="translate(479.1 1055.95) rotate(-90) scale(1 0.94)" x="0" y="0" font-size="19.7" text-anchor="middle" font-weight="bold" fill="#111">RBC Total Glutathione</text>
<text transform="translate(502.5 1054.55) rotate(-90) scale(1 0.94)" x="0" y="0" font-size="19.7" text-anchor="middle" font-weight="bold" fill="#111">(nmol/mg)</text>
<rect x="329.3" y="20.4" width="8.2" height="7" fill="#c0c0c0" stroke="#2a2a2a" stroke-width="1"/>
<rect x="330.5" y="37.4" width="7" height="7" fill="#fff" stroke="#2a2a2a" stroke-width="1"/>
<rect x="334.9" y="39.7" width="2.2" height="1.5" fill="#333"/>
<rect x="330.5" y="54.3" width="7" height="7.1" fill="#808080" stroke="#2a2a2a" stroke-width="1"/>
<text x="343.2" y="28.3" font-size="10.6" text-anchor="start" font-weight="bold" fill="#111" textLength="50.8" lengthAdjust="spacingAndGlyphs" >Total SOD</text>
<text x="343.2" y="45" font-size="10.6" text-anchor="start" font-weight="bold" fill="#111" textLength="37.2" lengthAdjust="spacingAndGlyphs" >MnSOD</text>
<text x="343.2" y="61.7" font-size="10.6" text-anchor="start" font-weight="bold" fill="#111" textLength="49.2" lengthAdjust="spacingAndGlyphs" >CuZnSOD</text>
<text x="8.6" y="39" font-size="40.5" text-anchor="start" font-weight="bold" fill="#111" >A</text>
<text x="8.3" y="331.1" font-size="40.5" text-anchor="start" font-weight="bold" fill="#111" >B</text>
<text x="10.4" y="639.6" font-size="40.5" text-anchor="start" font-weight="bold" fill="#111" >C</text>
<text x="10.1" y="931.1" font-size="40.5" text-anchor="start" font-weight="bold" fill="#111" >D</text>
</svg>
</body></html>
